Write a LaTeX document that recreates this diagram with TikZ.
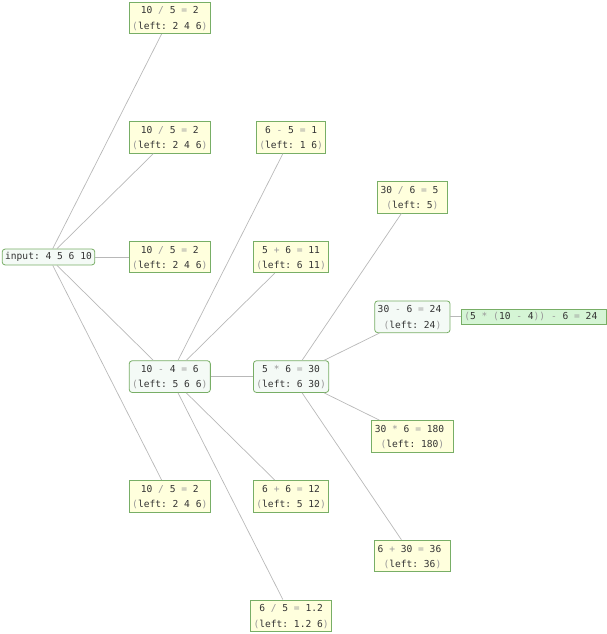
\documentclass[tikz,border=0pt]{standalone}
\usepackage{fontspec}
\setmonofont{DejaVu Sans Mono}
\usepackage{tikz}
\usetikzlibrary{shapes}
\definecolor{boxline}{HTML}{78AE66}
\definecolor{calcfill}{HTML}{FFFFDD}
\definecolor{statefill}{HTML}{F4FAF6}
\definecolor{goalfill}{HTML}{D5F5D5}
\definecolor{edgegray}{HTML}{B8B8B8}
\definecolor{textgray}{HTML}{333333}
\definecolor{opgray}{HTML}{999999}
\newcommand{\opr}[1]{\textcolor{opgray}{#1}}
\newcommand{\calctext}[2]{\rule{0pt}{8.6pt}#1\\#2}
\tikzset{
  calc node/.style={rectangle,draw=boxline,fill=calcfill,line width=0.8pt,
    inner xsep=3pt,inner ysep=3.3pt,align=center,text=textgray,
    font=\fontsize{9.6}{15.3}\selectfont\ttfamily},
  state node/.style={calc node,rounded corners=3pt,fill=statefill},
  goal node/.style={calc node,fill=goalfill}
}

\begin{document}
\begin{tikzpicture}[x=1pt,y=1pt,grow'=right,
         level distance=121.3pt,sibling distance=119.6pt,
         edge from parent/.style={draw=edgegray,line width=0.7pt}]
  \useasboundingbox (0,0) rectangle (606,-634);
  \node [state node] (input) at (48.5,-257) {input: 4 5 6 10}
    child {node [calc node] (d1) {\calctext{10 \opr{/} 5 \opr{=} 2}{\opr{(}left: 2 4 6\opr{)}}}}
    child {node [calc node] (d2) {\calctext{10 \opr{/} 5 \opr{=} 2}{\opr{(}left: 2 4 6\opr{)}}}}
    child {node [calc node] (d3) {\calctext{10 \opr{/} 5 \opr{=} 2}{\opr{(}left: 2 4 6\opr{)}}}}
    child {node [state node] (s1) {\calctext{10 \opr{-} 4 \opr{=} 6}{\opr{(}left: 5 6 6\opr{)}}}
      child {node [calc node] (e1) {\calctext{6 \opr{-} 5 \opr{=} 1}{\opr{(}left: 1 6\opr{)}}}}
      child {node [calc node] (e2) {\calctext{5 \opr{+} 6 \opr{=} 11}{\opr{(}left: 6 11\opr{)}}}}
      child {node [state node] (s2) {\calctext{5 \opr{*} 6 \opr{=} 30}{\opr{(}left: 6 30\opr{)}}}
        child {node [calc node] (f1) {\calctext{30 \opr{/} 6 \opr{=} 5\phantom{0}}{\opr{(}left: 5\opr{)}}}}
        child {node [state node] (s3) {\calctext{30 \opr{-} 6 \opr{=} 24\phantom{0}}{\opr{(}left: 24\opr{)}}}
          child {node [goal node] (goal) {\opr{(}5 \opr{*} \opr{(}10 \opr{-} 4\opr{))} \opr{-} 6 \opr{=} 24\phantom{0}}}
        }
        child {node [calc node] (f3) {\calctext{30 \opr{*} 6 \opr{=} 180\phantom{0}}{\opr{(}left: 180\opr{)}}}}
        child {node [calc node] (f4) {\calctext{6 \opr{+} 30 \opr{=} 36\phantom{0}}{\opr{(}left: 36\opr{)}}}}
      }
      child {node [calc node] (e4) {\calctext{6 \opr{+} 6 \opr{=} 12}{\opr{(}left: 5 12\opr{)}}}}
      child {node [calc node] (e5) {\calctext{6 \opr{/} 5 \opr{=} 1.2}{\opr{(}left: 1.2 6\opr{)}}}}
    }
    child {node [calc node] (d5) {\calctext{10 \opr{/} 5 \opr{=} 2}{\opr{(}left: 2 4 6\opr{)}}}};
\end{tikzpicture}
\end{document}
